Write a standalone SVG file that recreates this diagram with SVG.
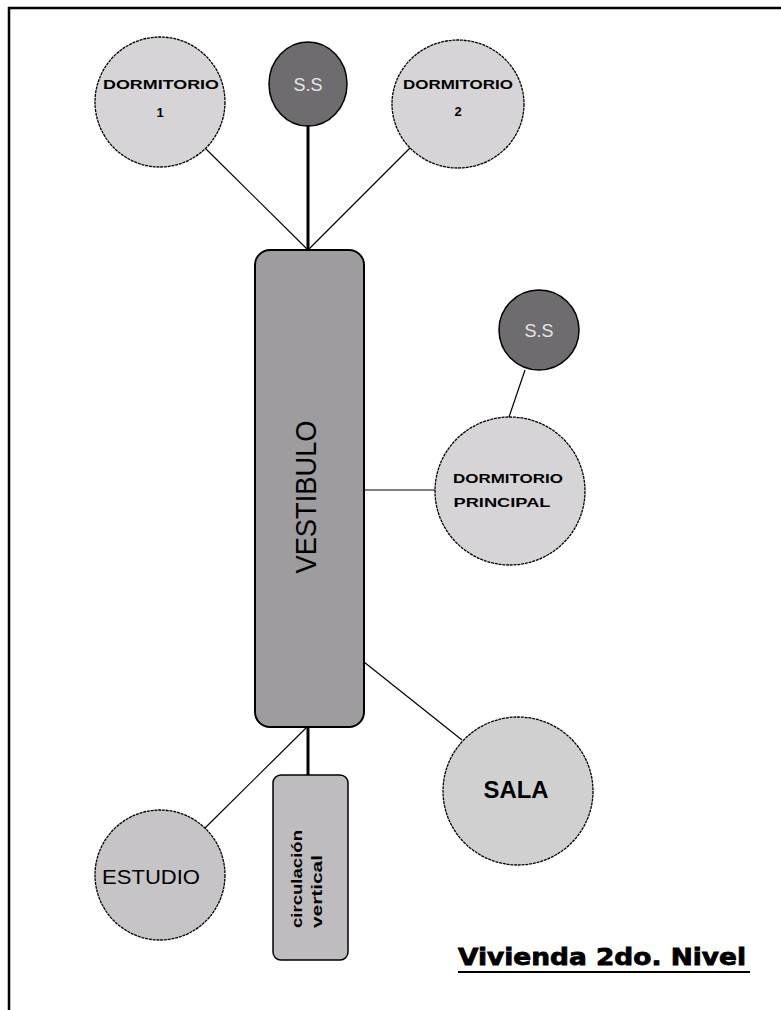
<svg xmlns="http://www.w3.org/2000/svg" width="781" height="1010" viewBox="0 0 781 1010">
<style>
.light{fill:#d6d4d6;stroke:#000;stroke-width:1.3;stroke-dasharray:3 0.8}
.mid{fill:#cacaca;stroke:#000;stroke-width:1.3;stroke-dasharray:3 0.8}
.dark{fill:#6e6c6e;stroke:#000;stroke-width:1.5}
.thin{stroke:#000;stroke-width:1.2;fill:none}
.thick{stroke:#000;stroke-width:3;fill:none}
.lbl{font-family:"Liberation Sans",Arial,sans-serif;font-weight:bold;font-size:13px;fill:#000;text-anchor:middle}
.ss{font-family:"Liberation Sans",Arial,sans-serif;font-size:18px;fill:#e6e6e6;text-anchor:middle}
</style>
<rect x="0" y="0" width="781" height="1010" fill="#fff"/>
<path d="M9,1010 V8 H781" fill="none" stroke="#000" stroke-width="2.5"/>
<g id="connectors">
<line class="thin" x1="205" y1="148" x2="307" y2="249"/>
<line class="thick" x1="308" y1="125" x2="308" y2="250"/>
<line class="thin" x1="410" y1="148" x2="309" y2="249"/>
<line class="thin" x1="525" y1="370" x2="509" y2="417"/>
<line class="thin" x1="364" y1="490" x2="436" y2="490"/>
<line class="thin" x1="364" y1="662" x2="462" y2="740"/>
<line class="thick" x1="308" y1="727" x2="308" y2="775"/>
<line class="thin" x1="307" y1="727" x2="205" y2="828"/>
</g>
<g id="dormitorio1">
<ellipse class="light" cx="160" cy="102" rx="65" ry="65"/>
<text class="lbl" x="161" y="89" textLength="116" lengthAdjust="spacingAndGlyphs">DORMITORIO</text>
<text class="lbl" x="160" y="117" font-size="14">1</text>
</g>
<g id="ss1">
<ellipse class="dark" cx="308" cy="84" rx="39" ry="42"/>
<text class="ss" x="308" y="91">S.S</text>
</g>
<g id="dormitorio2">
<ellipse class="light" cx="458" cy="104" rx="66" ry="64"/>
<text class="lbl" x="458" y="89" textLength="110" lengthAdjust="spacingAndGlyphs">DORMITORIO</text>
<text class="lbl" x="458" y="116" font-size="14">2</text>
</g>
<g id="vestibulo">
<rect x="255" y="250" width="109" height="477" rx="15" ry="15" fill="#9e9c9e" stroke="#000" stroke-width="2"/>
<text transform="translate(316,497) rotate(-90)" x="0" y="0" text-anchor="middle" font-family="Liberation Sans,Arial,sans-serif" font-size="29" fill="#000" textLength="153" lengthAdjust="spacingAndGlyphs">VESTIBULO</text>
</g>
<g id="ss2">
<ellipse class="dark" cx="539" cy="330" rx="40" ry="40"/>
<text class="ss" x="539" y="337">S.S</text>
</g>
<g id="dormitorio-principal">
<ellipse class="light" cx="510" cy="491" rx="75" ry="74"/>
<text class="lbl" x="508" y="483" textLength="110" lengthAdjust="spacingAndGlyphs">DORMITORIO</text>
<text class="lbl" x="502" y="507" textLength="97" lengthAdjust="spacingAndGlyphs">PRINCIPAL</text>
</g>
<g id="sala">
<ellipse class="light" cx="518" cy="791" rx="75" ry="74" style="fill:#d0d0d0"/>
<text x="516" y="798" text-anchor="middle" font-family="Liberation Sans,Arial,sans-serif" font-weight="bold" font-size="24" fill="#000" textLength="65" lengthAdjust="spacingAndGlyphs">SALA</text>
</g>
<g id="estudio">
<ellipse class="mid" cx="160" cy="875" rx="65" ry="65" style="fill:#c6c4c6"/>
<text x="151" y="884" text-anchor="middle" font-family="Liberation Sans,Arial,sans-serif" font-size="21" fill="#000" textLength="98" lengthAdjust="spacingAndGlyphs">ESTUDIO</text>
</g>
<g id="circulacion-vertical">
<rect x="273" y="775" width="75" height="185" rx="8" ry="8" fill="#bebcbe" stroke="#000" stroke-width="1.5"/>
<text transform="translate(302,928) rotate(-90)" font-family="Liberation Sans,Arial,sans-serif" font-weight="bold" font-size="14" fill="#000" textLength="98" lengthAdjust="spacingAndGlyphs">circulación</text>
<text transform="translate(322,928) rotate(-90)" font-family="Liberation Sans,Arial,sans-serif" font-weight="bold" font-size="14" fill="#000" textLength="73" lengthAdjust="spacingAndGlyphs">vertical</text>
</g>
<g id="titulo">
<text x="458" y="965" font-family="DejaVu Sans,sans-serif" font-weight="bold" font-size="23" fill="#000" stroke="#000" stroke-width="0.8" textLength="288" lengthAdjust="spacingAndGlyphs">Vivienda 2do. Nivel</text>
<line x1="458" y1="972" x2="750" y2="972" stroke="#000" stroke-width="2"/>
</g>
</svg>
